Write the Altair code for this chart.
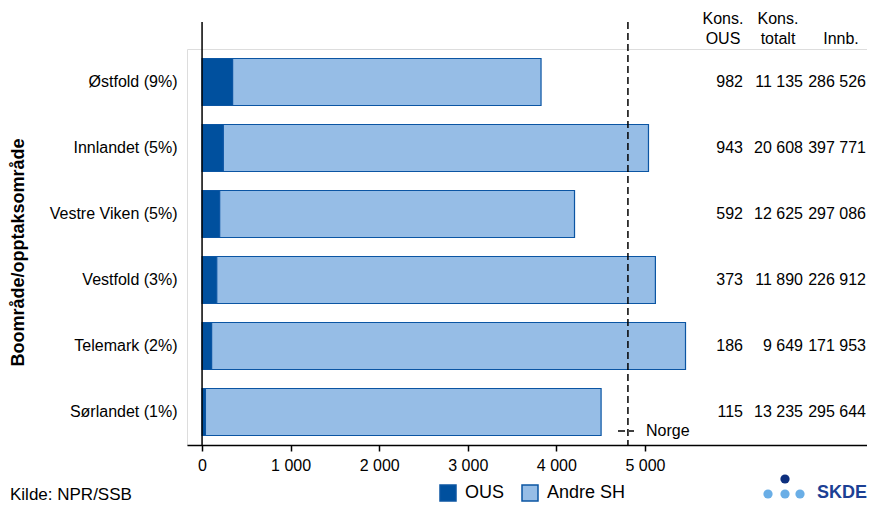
import altair as alt
import pandas as pd

# ---- data ----
areas = ["Østfold (9%)", "Innlandet (5%)", "Vestre Viken (5%)", "Vestfold (3%)",
         "Telemark (2%)", "Sørlandet (1%)"]
ous_rate = [345, 240, 199, 166, 108, 38]
total_rate = [3827, 5040, 4205, 5118, 5458, 4505]
kons_ous = ["982", "943", "592", "373", "186", "115"]
kons_tot = ["11 135", "20 608", "12 625", "11 890", "9 649", "13 235"]
innb = ["286 526", "397 771", "297 086", "226 912", "171 953", "295 644"]
norge_rate = 4808
x_ticks = [0, 1000, 2000, 3000, 4000, 5000]
series = ["OUS", "Andre SH"]
header_l1 = ["Kons.", "Kons.", ""]
header_l2 = ["OUS", "totalt", "Innb."]
source_text = "Kilde: NPR/SSB"

FONT = "Liberation Sans"
DARK = "#00509E"
LIGHT = "#96BDE6"
EDGE = "#0B55A3"

rows = []
for a, o, t in zip(areas, ous_rate, total_rate):
    rows.append({"area": a, "type": "OUS", "value": o, "ord": 0})
    rows.append({"area": a, "type": "Andre SH", "value": t - o, "ord": 1})
bar_df = pd.DataFrame(rows)

table_df = pd.DataFrame({"area": areas, "c1": kons_ous, "c2": kons_tot, "c3": innb})

ysort = areas
yscale = alt.Scale(paddingInner=0.288, paddingOuter=0.144)

bars = alt.Chart(bar_df).mark_bar(stroke=EDGE, strokeWidth=1.2).encode(
    y=alt.Y("area:N", sort=ysort, scale=yscale,
            axis=alt.Axis(title="Boområde/opptaksområde", domain=False, ticks=False,
                          labelPadding=10, labelFontSize=16, labelColor="black",
                          labelFont=FONT, titleFont=FONT, titleFontSize=18,
                          titleFontWeight="bold", titleColor="black",
                          titleAngle=270, titleX=-169, titleY=203,
                          titleAlign="center", titleBaseline="middle")),
    x=alt.X("value:Q", stack="zero",
            scale=alt.Scale(domain=[-170, 7507], nice=False, zero=False),
            axis=alt.Axis(title=None, values=x_ticks, grid=False,
                          labelExpr="replace(format(datum.value, ','), ',', ' ')",
                          labelFontSize=16, labelFont=FONT, labelColor="black",
                          domainColor="black", domainWidth=1.5,
                          tickColor="black", tickWidth=1.5, tickSize=6,
                          labelPadding=6)),
    color=alt.Color("type:N", scale=alt.Scale(domain=series, range=[DARK, LIGHT]),
                    legend=alt.Legend(title=None, orient="none", legendX=252, legendY=435,
                                      direction="horizontal", symbolType="square",
                                      symbolSize=256, symbolStrokeColor=EDGE,
                                      symbolStrokeWidth=1.5, labelFontSize=18,
                                      labelFont=FONT, labelColor="black",
                                      labelOffset=8, columnPadding=14)),
    order=alt.Order("ord:Q"),
)

norge_line = alt.Chart(pd.DataFrame({"x": [norge_rate]})).mark_rule(
    color="black", strokeWidth=1.5, strokeDash=[7, 4]
).encode(x="x:Q", y=alt.value(-27), y2=alt.value(396))

yaxis_line = alt.Chart(pd.DataFrame({"x": [0]})).mark_rule(
    color="black", strokeWidth=1.5
).encode(x="x:Q", y=alt.value(-27), y2=alt.value(396))

norge_sample = alt.Chart(pd.DataFrame({"t": ["Norge"]})).mark_rule(
    color="black", strokeWidth=1.3, strokeDash=[7, 4]
).encode(x=alt.value(431), x2=alt.value(447), y=alt.value(382))

norge_label = alt.Chart(pd.DataFrame({"t": ["Norge"]})).mark_text(
    align="left", baseline="middle", fontSize=16, font=FONT, color="black"
).encode(x=alt.value(459), y=alt.value(382), text="t:N")

def col_text(field, xpx):
    return alt.Chart(table_df).mark_text(
        align="right", baseline="middle", fontSize=16, font=FONT, color="black"
    ).encode(y=alt.Y("area:N", sort=ysort), x=alt.value(xpx), text=f"{field}:N")

t1 = col_text("c1", 556)
t2 = col_text("c2", 616)
t3 = col_text("c3", 679)

hdr_df = pd.DataFrame({"l1": header_l1, "l2": header_l2, "xp": [536, 591, 654]})
hdr1 = alt.Chart(hdr_df).mark_text(
    align="center", baseline="middle", fontSize=16, font=FONT, color="black"
).encode(x=alt.X("xp:Q", scale=None), y=alt.value(-30), text="l1:N")
hdr2 = alt.Chart(hdr_df).mark_text(
    align="center", baseline="middle", fontSize=16, font=FONT, color="black"
).encode(x=alt.X("xp:Q", scale=None), y=alt.value(-10), text="l2:N")

source = alt.Chart(pd.DataFrame({"t": [source_text]})).mark_text(
    align="left", baseline="alphabetic", fontSize=17, font=FONT, color="black"
).encode(x=alt.value(-177), y=alt.value(451), text="t:N")

logo_df = pd.DataFrame({
    "px": [598, 581, 598, 613, 598],
    "py": [430, 445, 445, 445, 459],
    "c": ["#0D2F7E", "#6AAEE6", "#6AAEE6", "#6AAEE6", "#6AAEE6"],
})
logo_dots = alt.Chart(logo_df).mark_circle(size=85, opacity=1).encode(
    x=alt.X("px:Q", scale=None), y=alt.Y("py:Q", scale=None),
    color=alt.Color("c:N", scale=None, legend=None))
logo_text = alt.Chart(pd.DataFrame({"t": ["SKDE"]})).mark_text(
    align="left", baseline="middle", fontSize=18, fontWeight="bold", font=FONT,
    color="#1C3F94"
).encode(x=alt.value(630), y=alt.value(444), text="t:N")

chart = alt.layer(
    bars, yaxis_line, norge_line, norge_sample, norge_label, t1, t2, t3,
    hdr1, hdr2, source, logo_dots, logo_text
).resolve_scale(color="independent").properties(
    width=680, height=396,
    autosize=alt.AutoSizeParams(type="none"),
    padding={"left": 179, "top": 41, "right": 0, "bottom": 58},
).configure_view(stroke=None).configure(font=FONT)

chart.save("out.html", embed_options={"renderer": "svg", "actions": False})
